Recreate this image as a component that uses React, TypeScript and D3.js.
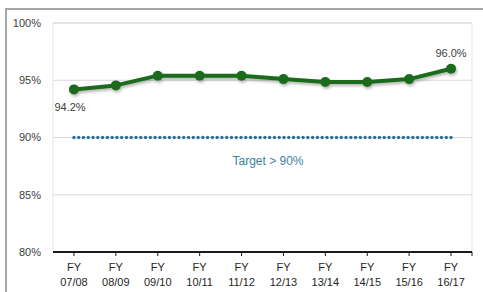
import React from "react";
import * as d3 from "d3";

const categories = ["07/08", "08/09", "09/10", "10/11", "11/12", "12/13", "13/14", "14/15", "15/16", "16/17"];
const values = [94.2, 94.55, 95.4, 95.4, 95.4, 95.1, 94.85, 94.85, 95.1, 96.0];
const target = 90;
const yTicks = [80, 85, 90, 95, 100];

const W = 483;
const H = 292;
const m = { left: 53, right: 11, top: 23, bottom: 40 };
const FONT = "'Liberation Sans', Arial, sans-serif";

export default function App() {
  const x = d3.scaleBand<string>().domain(categories).range([m.left, W - m.right]);
  const y = d3.scaleLinear().domain([80, 100]).range([H - m.bottom, m.top]);
  const cx = (c: string) => (x(c) as number) + x.bandwidth() / 2;
  const line = d3.line<number>().x((_, i) => cx(categories[i])).y((d) => y(d));

  const x0 = cx(categories[0]);
  const x1 = cx(categories[categories.length - 1]);
  const nDots = Math.round((x1 - x0) / 4.8);
  const dots = d3.range(nDots + 1).map((i) => x0 + ((x1 - x0) * i) / nDots);

  const last = values.length - 1;

  return (
    <svg width={W} height={H} style={{ position: "absolute", left: 0, top: 0, background: "#fff" }}>
      <defs>
        <filter id="sh" x="-10%" y="-50%" width="120%" height="200%">
          <feGaussianBlur in="SourceAlpha" stdDeviation="1.5" />
          <feOffset dx="1" dy="2" result="b" />
          <feComponentTransfer>
            <feFuncA type="linear" slope="0.3" />
          </feComponentTransfer>
          <feMerge>
            <feMergeNode />
            <feMergeNode in="SourceGraphic" />
          </feMerge>
        </filter>
      </defs>
      {/* outer frame */}
      <path d={`M6,${H} V9 H${W}`} fill="none" stroke="#a6a6a6" strokeWidth={2} />
      {/* plot area border */}
      <rect x={m.left} y={m.top} width={W - m.left - m.right} height={H - m.top - m.bottom} fill="none" stroke="#e3e3e3" strokeWidth={1} />
      {/* gridlines */}
      {yTicks.slice(1).map((t) => (
        <line key={t} x1={m.left} x2={W - m.right} y1={y(t)} y2={y(t)} stroke="#d9d9d9" strokeWidth={1} />
      ))}
      {/* y labels */}
      {yTicks.map((t) => (
        <text key={t} x={41} y={y(t)} dy="0.35em" textAnchor="end" fontFamily={FONT} fontSize={11} fill="#404040">
          {t}%
        </text>
      ))}
      {/* x axis */}
      <line x1={m.left} x2={W - m.right} y1={y(80)} y2={y(80)} stroke="#1a1a1a" strokeWidth={2} />
      {categories.map((c) => (
        <g key={c}>
          <line x1={cx(c)} x2={cx(c)} y1={y(80)} y2={y(80) + 4} stroke="#1a1a1a" strokeWidth={1} />
          <text x={cx(c)} y={y(80) + 19} textAnchor="middle" fontFamily={FONT} fontSize={11} fill="#262626">FY</text>
          <text x={cx(c)} y={y(80) + 34} textAnchor="middle" fontFamily={FONT} fontSize={11} fill="#262626">{c}</text>
        </g>
      ))}
      <line x1={W - m.right} x2={W - m.right} y1={y(80)} y2={y(80) + 4} stroke="#1a1a1a" strokeWidth={1} />
      {/* target dotted line */}
      {dots.map((d, i) => (
        <circle key={i} cx={d} cy={y(target)} r={1.7} fill="#2a6f9e" />
      ))}
      <text x={268} y={y(target) + 27} textAnchor="middle" fontFamily={FONT} fontSize={12} fill="#3b82a3">
        Target &gt; 90%
      </text>
      {/* series */}
      <g filter="url(#sh)">
        <path d={line(values) as string} fill="none" stroke="#1c6b1c" strokeWidth={4} strokeLinejoin="round" />
        {values.map((v, i) => (
          <circle key={i} cx={cx(categories[i])} cy={y(v)} r={5} fill="#1c6b1c" />
        ))}
      </g>
      <text x={70} y={y(values[0]) + 22} textAnchor="middle" fontFamily={FONT} fontSize={11} fill="#404040">
        {values[0].toFixed(1)}%
      </text>
      <text x={451} y={y(values[last]) - 12} textAnchor="middle" fontFamily={FONT} fontSize={11} fill="#404040">
        {values[last].toFixed(1)}%
      </text>
    </svg>
  );
}
